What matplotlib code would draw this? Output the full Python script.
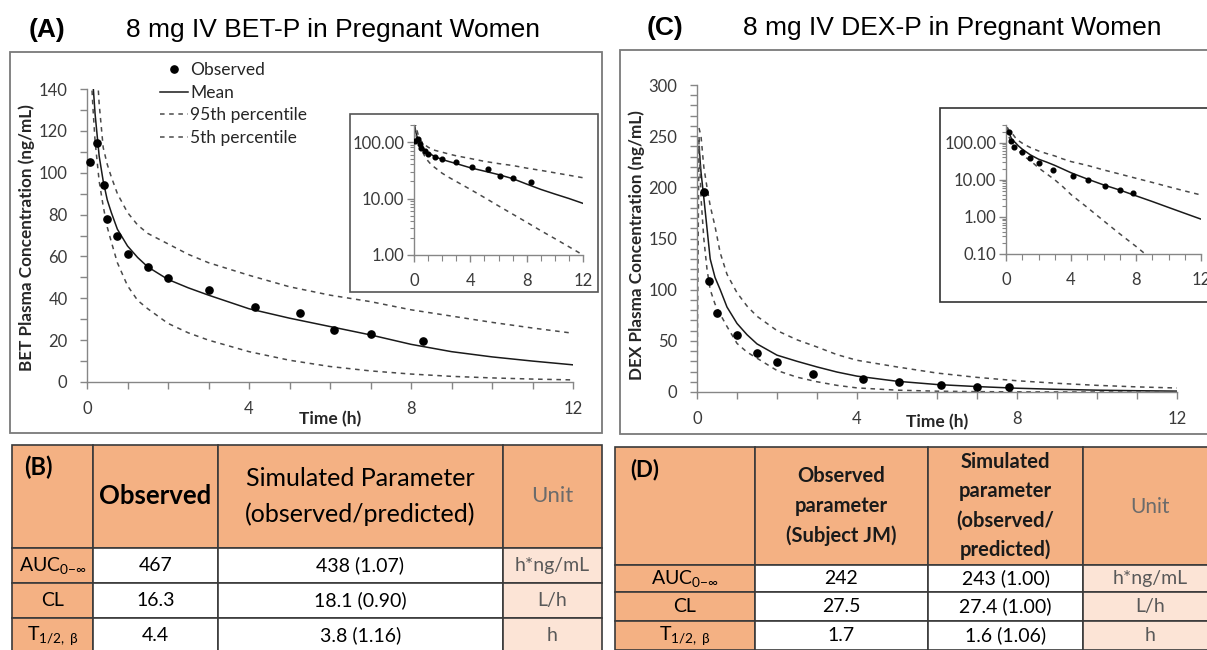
import matplotlib
matplotlib.use('Agg')
import matplotlib.pyplot as plt
from matplotlib.patches import Rectangle
from matplotlib.ticker import NullFormatter, FixedLocator, LogLocator
import numpy as np

plt.rcParams['font.family'] = ['Lato', 'DejaVu Sans']
plt.rcParams['mathtext.fontset'] = 'custom'
plt.rcParams['mathtext.rm'] = 'Lato'
plt.rcParams['mathtext.it'] = 'Lato:italic'
plt.rcParams['mathtext.bf'] = 'Lato:bold'

# ---------------- data: panel A (betamethasone) ----------------
bet_obs_time = [0.08, 0.25, 0.42, 0.5, 0.75, 1.0, 1.5, 2.0, 3.0, 4.15, 5.25, 6.1, 7.0, 8.3]
bet_obs_conc = [105, 114, 94, 78, 70, 61, 55, 49.5, 44, 36, 33, 25, 23, 19.5]
bet_sim_time = [0.02, 0.1, 0.15, 0.2, 0.3, 0.4, 0.5, 0.6, 0.75, 1.0, 1.25, 1.5, 2.0, 2.5,
                3.0, 4.0, 5.0, 6.0, 7.0, 8.0, 9.0, 10.0, 11.0, 12.0]
bet_mean = [210, 165, 142, 128, 108, 96, 87, 81, 73, 65, 59.5, 55, 49, 45,
            41.5, 35, 30.5, 26.5, 22.5, 18, 14.5, 12, 10, 8.2]
bet_p95 = [230, 205, 185, 165, 133, 112, 104, 98, 90, 81, 75, 71, 66, 61,
           57, 51, 45.5, 41.5, 38.4, 34.5, 31.5, 28.5, 25.8, 23.3]
bet_p5 = [190, 148, 130, 115, 96, 84, 74, 67, 57, 46, 39, 35, 28, 23.5,
          20, 14.5, 10.4, 7.4, 5.3, 3.8, 2.7, 1.95, 1.4, 1.0]

# ---------------- data: panel C (dexamethasone) ----------------
dex_obs_time = [0.17, 0.3, 0.5, 1.0, 1.5, 2.0, 2.9, 4.15, 5.05, 6.1, 7.0, 7.8]
dex_obs_conc = [195, 108, 77, 56, 38, 29, 18, 12.5, 10, 7, 5.2, 4.5]
dex_sim_time = [0.0, 0.05, 0.1, 0.17, 0.25, 0.33, 0.45, 0.58, 0.75, 1.0, 1.25, 1.5, 2.0,
                2.5, 3.0, 3.5, 4.0, 5.0, 6.0, 7.0, 8.0, 9.0, 10.0, 11.0, 12.0]
dex_mean = [np.nan, 240, 215, 190, 160, 130, 112, 100, 83, 67, 56, 47, 36,
            30, 24.5, 19.5, 15.5, 10.5, 7.3, 5.3, 3.7, 2.6, 1.8, 1.25, 0.87]
dex_p95 = [np.nan, 258, 250, 220, 200, 182, 162, 136, 115, 97, 84, 74, 60,
           51, 44, 36.5, 31, 24.5, 18.5, 14.3, 11, 8.5, 6.5, 5, 3.9]
dex_p5 = [0, 250, 190, 150, 120, 100, 86, 76, 64, 47.5, 39, 33, 21,
          14.5, 10, 6.5, 4.0, 1.8, 0.79, 0.35, 0.16, 0.07, 0.03, 0.013, 0.006]

legend_labels = ['Observed', 'Mean', '95th percentile', '5th percentile']

# ---------------- table data ----------------
row_labels = [r'AUC$_{0\mathrm{-}\infty}$', 'CL', r'T$_{1/2,\ \mathrm{β}}$']
units = ['h*ng/mL', 'L/h', 'h']
tabB_observed = ['467', '16.3', '4.4']
tabB_simulated = ['438 (1.07)', '18.1 (0.90)', '3.8 (1.16)']
tabD_observed = ['242', '27.5', '1.7']
tabD_simulated = ['243 (1.00)', '27.4 (1.00)', '1.6 (1.06)']

# ---------------- figure ----------------
W, H = 1207, 650
fig = plt.figure(figsize=(W / 100, H / 100), dpi=100)
bg = fig.add_axes([0, 0, 1, 1])
bg.set_xlim(0, W)
bg.set_ylim(H, 0)
bg.axis('off')


def px_axes(x0, y0, x1, y1):
    return fig.add_axes([x0 / W, 1 - y1 / H, (x1 - x0) / W, (y1 - y0) / H])


ORANGE = '#F4B183'
PEACH = '#FCE4D6'
SPINE = '#868686'
TICKTXT = '#3a3a3a'
LINE = '#1a1a1a'
DASH = '#4a4a4a'

# panel frames
bg.add_patch(Rectangle((10, 52), 592, 381, fc='white', ec='#7a7a7a', lw=1.3))
bg.add_patch(Rectangle((620, 50), 600, 384, fc='white', ec='#7a7a7a', lw=1.3))
# inset frames
bg.add_patch(Rectangle((350, 114), 248, 178, fc='white', ec='#555555', lw=1.2))
bg.add_patch(Rectangle((940, 108), 280, 194, fc='white', ec='#333333', lw=1.2))

# titles
tfont = dict(family=['Liberation Sans', 'DejaVu Sans'], fontsize=19, va='center')
bg.text(47, 30, '(A)', ha='center', fontweight='bold', **tfont)
bg.text(333, 30, '8 mg IV BET-P in Pregnant Women', ha='center', **tfont)
bg.text(665, 28, '(C)', ha='center', fontweight='bold', **tfont)
bg.text(952, 28, '8 mg IV DEX-P in Pregnant Women', ha='center', **tfont)


def style_lin(ax, ymax, ymajor, yminor):
    ax.patch.set_alpha(0)
    for s in ['top', 'right']:
        ax.spines[s].set_visible(False)
    for s in ['left', 'bottom']:
        ax.spines[s].set_color(SPINE)
        ax.spines[s].set_linewidth(1.0)
    ax.set_xlim(0, 12)
    ax.set_ylim(0, ymax)
    ax.xaxis.set_major_locator(FixedLocator([0, 4, 8, 12]))
    ax.xaxis.set_minor_locator(FixedLocator(list(range(13))))
    ax.yaxis.set_major_locator(FixedLocator(ymajor))
    ax.yaxis.set_minor_locator(FixedLocator(yminor))
    ax.tick_params(which='both', direction='out', length=5, width=1, color=SPINE,
                   labelsize=12, labelcolor=TICKTXT)
    ax.tick_params(axis='x', pad=9)
    ax.tick_params(axis='y', pad=9)


def style_log(ax, ylo, yhi, yticks, ylabels):
    ax.patch.set_alpha(0)
    for s in ['top', 'right']:
        ax.spines[s].set_visible(False)
    for s in ['left', 'bottom']:
        ax.spines[s].set_color(SPINE)
        ax.spines[s].set_linewidth(1.0)
    ax.set_yscale('log', nonpositive='mask')
    ax.set_xlim(0, 12)
    ax.set_ylim(ylo, yhi)
    ax.xaxis.set_major_locator(FixedLocator([0, 4, 8, 12]))
    ax.xaxis.set_minor_locator(FixedLocator(list(range(13))))
    ax.yaxis.set_major_locator(FixedLocator(yticks))
    ax.set_yticklabels(ylabels)
    ax.yaxis.set_minor_locator(LogLocator(base=10, subs=np.arange(2, 10)))
    ax.yaxis.set_minor_formatter(NullFormatter())
    ax.tick_params(which='major', direction='out', length=5, width=1, color=SPINE,
                   labelsize=12, labelcolor=TICKTXT)
    ax.tick_params(which='minor', direction='out', length=3, width=0.8, color=SPINE)
    ax.tick_params(axis='x', which='minor', length=4)
    ax.tick_params(axis='x', pad=8)
    ax.tick_params(axis='y', pad=2)


def draw_series(ax, ot, oc, st, m, p95, p5, ms=5.2):
    h_obs, = ax.plot(ot, oc, 'o', color='black', ms=ms, zorder=5, clip_on=False)
    h_m, = ax.plot(st, m, '-', color=LINE, lw=1.1)
    h_u, = ax.plot(st, p95, color=DASH, lw=1.1, ls=(0, (3, 3)))
    h_l, = ax.plot(st, p5, color=DASH, lw=1.1, ls=(0, (3, 3)))
    return [h_obs, h_m, h_u, h_l]


# ---------------- panel A ----------------
axA = px_axes(87, 89, 573, 382)
style_lin(axA, 140, [0, 20, 40, 60, 80, 100, 120, 140],
          [0, 10, 20, 30, 40, 50, 60, 70, 80, 90, 100, 110, 120, 130, 140])
hA = draw_series(axA, bet_obs_time, bet_obs_conc, bet_sim_time, bet_mean, bet_p95, bet_p5)
axA.set_xlabel('Time (h)', fontsize=12.5, fontweight='bold', color='#262626')
axA.xaxis.set_label_coords(0.5, -0.1)
fig.text(27 / W, 1 - 238 / H, 'BET Plasma Concentration (ng/mL)', rotation=90,
         ha='center', va='center', fontsize=12.3, fontweight='bold', color='#262626')
axA.legend(hA, legend_labels, loc='upper left', bbox_to_anchor=(160 / W, 1 - 62 / H),
           bbox_transform=fig.transFigure, frameon=False, fontsize=12.5,
           handlelength=1.6, handletextpad=0.15, labelspacing=0.38,
           borderpad=0, borderaxespad=0, labelcolor='#262626')

# inset A
axAi = px_axes(414, 125, 583, 255)
style_log(axAi, 1, 200, [1, 10, 100], ['1.00', '10.00', '100.00'])
draw_series(axAi, bet_obs_time, bet_obs_conc, bet_sim_time, bet_mean, bet_p95, bet_p5, ms=3.4)
for l in axAi.lines:
    l.set_clip_on(True)

# ---------------- panel C ----------------
axC = px_axes(697, 85, 1177, 392)
style_lin(axC, 300, [0, 50, 100, 150, 200, 250, 300],
          list(range(0, 301, 10)))
draw_series(axC, dex_obs_time, dex_obs_conc, dex_sim_time, dex_mean, dex_p95, dex_p5)
axC.set_xlabel('Time (h)', fontsize=12.5, fontweight='bold', color='#262626')
axC.xaxis.set_label_coords(0.5, -0.07)
fig.text(637 / W, 1 - 245 / H, 'DEX Plasma Concentration (ng/mL)', rotation=90,
         ha='center', va='center', fontsize=12.3, fontweight='bold', color='#262626')

axCi = px_axes(1006, 125, 1201, 254)
style_log(axCi, 0.1, 300, [0.1, 1, 10, 100], ['0.10', '1.00', '10.00', '100.00'])
draw_series(axCi, dex_obs_time, dex_obs_conc, dex_sim_time, dex_mean, dex_p95, dex_p5, ms=3.4)
for l in axCi.lines:
    l.set_clip_on(True)

# ---------------- tables ----------------
BORDER = '#3a3a3a'


def cell(x0, y0, x1, y1, fc):
    bg.add_patch(Rectangle((x0, y0), x1 - x0, y1 - y0, fc=fc, ec=BORDER, lw=1.2))


def draw_table(xs, ys, header, obs, sim, hdr_fs, val_fs, tag, tag_xy, obs_kw, sim_kw, unit_y):
    for i in range(4):
        cell(xs[i], ys[0], xs[i + 1], ys[1], ORANGE)
    ux = (xs[3] + xs[4]) / 2 if xs[4] < W else 1150
    for r in range(3):
        y0, y1 = ys[r + 1], ys[r + 2]
        cell(xs[0], y0, xs[1], y1, ORANGE)
        cell(xs[1], y0, xs[2], y1, 'white')
        cell(xs[2], y0, xs[3], y1, 'white')
        cell(xs[3], y0, xs[4], y1, PEACH)
        yc = (y0 + y1) / 2
        bg.text((xs[0] + xs[1]) / 2, yc, row_labels[r], ha='center', va='center',
                fontsize=val_fs, color='black')
        bg.text((xs[1] + xs[2]) / 2, yc, obs[r], ha='center', va='center',
                fontsize=val_fs, color='black')
        bg.text((xs[2] + xs[3]) / 2, yc, sim[r], ha='center', va='center',
                fontsize=val_fs, color='black')
        bg.text(ux, yc, units[r], ha='center', va='center', fontsize=val_fs, color='#595959')
    bg.text(tag_xy[0], tag_xy[1], tag, ha='left', va='center', fontsize=hdr_fs,
            fontweight='bold', color='black')
    hy = (ys[0] + ys[1]) / 2
    bg.text((xs[1] + xs[2]) / 2, hy, header[0], ha='center', va='center', **obs_kw)
    bg.text((xs[2] + xs[3]) / 2, hy, header[1], ha='center', va='center', **sim_kw)
    bg.text(ux, unit_y, header[2], ha='center', va='center', fontsize=hdr_fs - 1,
            color='#6b6b6b')


draw_table([12, 93, 218, 503, 602], [445, 548, 583, 618, 653],
           ['Observed', 'Simulated Parameter\n(observed/predicted)', 'Unit'],
           tabB_observed, tabB_simulated, 17, 14, '(B)', (24, 467),
           dict(fontsize=18.5, fontweight='bold', color='black'),
           dict(fontsize=18, color='black', linespacing=1.6), 496)

draw_table([615, 755, 928, 1083, 1220], [447, 565, 592, 621, 650],
           ['Observed\nparameter\n(Subject JM)', 'Simulated\nparameter\n(observed/\npredicted)', 'Unit'],
           tabD_observed, tabD_simulated, 16, 14, '(D)', (630, 470),
           dict(fontsize=14.5, fontweight='bold', color='#1a1a1a', linespacing=1.6),
           dict(fontsize=14.5, fontweight='bold', color='#1a1a1a', linespacing=1.58), 507)

fig.savefig('out.png', dpi=100)
